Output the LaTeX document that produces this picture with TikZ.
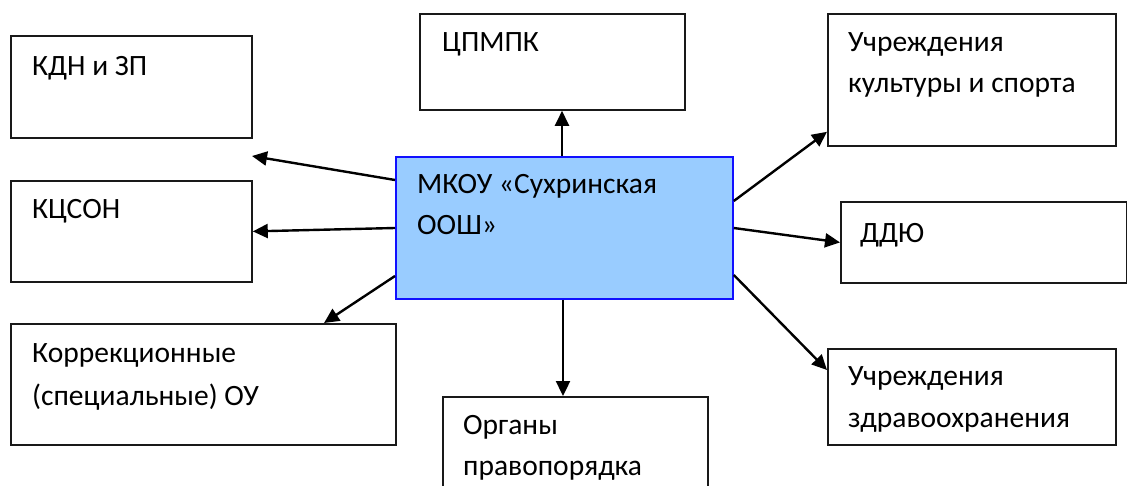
\documentclass[tikz,border=0pt]{standalone}
\usepackage{fontspec}
\setmainfont{Carlito}
\usetikzlibrary{arrows.meta,calc}
\definecolor{cfill}{HTML}{99CCFF}
\definecolor{cdraw}{HTML}{1010FF}
\begin{document}
\begin{tikzpicture}[x=1pt,y=-1pt,
  box/.style={draw=black!90, line width=1.8pt, rectangle, inner sep=0pt, anchor=north west},
  mainbox/.style={box, draw=cdraw, fill=cfill},
  txt/.style={font=\fontsize{29.5}{41}\selectfont, anchor=base west, inner sep=0pt, text=black},
  arr/.style={line width=2.4pt, -{Triangle[length=15pt,width=14pt]}}]
\useasboundingbox (0,0) rectangle (1127,486);
\clip (0,0) rectangle (1127,486);
% boxes
\node[box, minimum width=241pt, minimum height=102pt] (kdn) at (10,35) {};
\node[box, minimum width=241pt, minimum height=101pt] (kcs) at (10,180) {};
\node[box, minimum width=385pt, minimum height=121pt] (kor) at (10,323) {};
\node[box, minimum width=265pt, minimum height=96pt] (cpm) at (419,13) {};
\node[mainbox, minimum width=337pt, minimum height=142pt] (c) at (395,156) {};
\node[box, minimum width=265pt, minimum height=130pt] (org) at (442,396) {};
\node[box, minimum width=288pt, minimum height=132pt] (kul) at (827,13) {};
\node[box, minimum width=286pt, minimum height=81pt] (ddu) at (840,201) {};
\node[box, minimum width=288pt, minimum height=96pt] (zdr) at (827,348) {};
% texts
\node[txt] (tkdn) at (32,76) {КДН и ЗП};
\node[txt] (tkcs) at (32,219) {КЦСОН};
\node[txt] (tkor1) at (32,362) {Коррекционные};
\node[txt] (tkor2) at (32,405) {(специальные) ОУ};
\node[txt] (tcpm) at (442,52) {ЦПМПК};
\node[txt] (tc1) at (417,194) {МКОУ «Сухринская};
\node[txt] (tc2) at (417,235) {ООШ»};
\node[txt] (torg1) at (463,434) {Органы};
\node[txt] (torg2) at (463,475) {правопорядка};
\node[txt] (tkul1) at (848,52) {Учреждения};
\node[txt] (tkul2) at (848,93) {культуры и спорта};
\node[txt] (tddu) at (860,243) {ДДЮ};
\node[txt] (tzdr1) at (848,385) {Учреждения};
\node[txt] (tzdr2) at (848,427) {здравоохранения};
% free end
\coordinate (p1) at (252,156);
% arrows
\draw[arr] ($(c.north west)+(0,24)$) -- (p1);
\draw[arr] ($(c.north west)+(0,72)$) -- (kcs.east);
\draw[arr] ($(c.north west)+(0,120)$) -- ($(kor.north west)+(314,0)$);
\draw[arr] ($(c.north west)+(167,0)$) -- ($(cpm.south west)+(143,0)$);
\draw[arr] ($(c.south west)+(168,0)$) -- ($(org.north west)+(121,0)$);
\draw[arr] ($(c.north east)+(0,45)$) -- ($(kul.south west)+(0,-15)$);
\draw[arr] ($(c.north east)+(0,72)$) -- (ddu.west);
\draw[arr] ($(c.north east)+(0,119)$) -- ($(zdr.north west)+(0,22)$);
\end{tikzpicture}
\end{document}
